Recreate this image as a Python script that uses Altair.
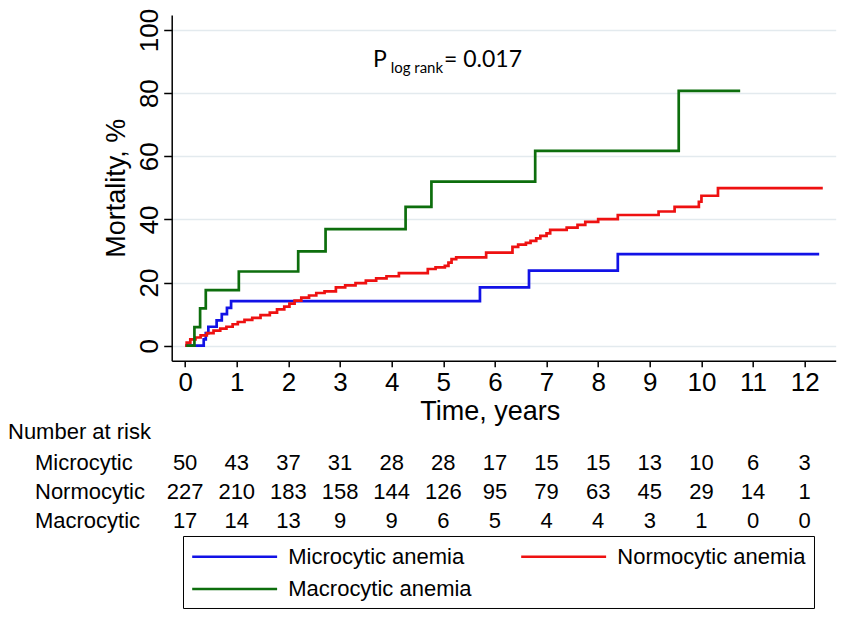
import altair as alt
import pandas as pd

# ---------------- data ----------------
groups = ["Microcytic anemia", "Normocytic anemia", "Macrocytic anemia"]
colors = ["#1212e6", "#ee1111", "#0d6e0d"]

micro_t = [0.0, 0.36, 0.40, 0.45, 0.61, 0.71, 0.81, 0.89, 5.71, 6.66, 8.38, 12.28]
micro_v = [0.0, 2.0, 4.0, 6.0, 8.0, 10.0, 12.0, 14.1, 18.5, 23.8, 29.0, 29.0]

normo_t = [0.0, 0.03, 0.10, 0.20, 0.30, 0.42, 0.55, 0.68, 0.80, 0.92, 1.02, 1.15,
           1.30, 1.46, 1.64, 1.78, 1.92, 2.02, 2.12, 2.25, 2.40, 2.54, 2.70, 2.92,
           3.10, 3.30, 3.50, 3.70, 3.90, 4.14, 4.70, 4.85, 5.03, 5.10, 5.16, 5.25,
           5.83, 6.34, 6.45, 6.60, 6.69, 6.80, 6.88, 7.00, 7.07, 7.39, 7.60, 7.75,
           8.00, 8.38, 9.17, 9.48, 9.95, 10.00, 10.32, 12.35]
normo_v = [0.0, 1.0, 2.0, 2.6, 3.3, 4.0, 4.8, 5.4, 6.0, 6.8, 7.5, 8.2,
           8.8, 9.7, 10.5, 11.5, 12.4, 13.3, 14.3, 15.2, 15.9, 16.7, 17.2, 18.5,
           19.1, 19.8, 20.6, 21.3, 22.0, 23.0, 24.3, 24.8, 25.3, 26.3, 27.4, 28.0,
           29.5, 31.3, 32.0, 32.6, 33.2, 34.0, 34.8, 35.6, 36.7, 37.4, 38.3, 39.2,
           40.1, 41.4, 42.5, 44.0, 45.6, 47.5, 49.9, 49.9]

macro_t = [0.02, 0.18, 0.29, 0.40, 1.04, 2.19, 2.72, 4.27, 4.77, 6.78, 9.56, 10.75]
macro_v = [0.0, 5.9, 11.8, 17.6, 23.5, 29.9, 36.9, 44.0, 52.0, 61.7, 80.7, 80.7]

risk_times = [0, 1, 2, 3, 4, 5, 6, 7, 8, 9, 10, 11, 12]
risk_rows = ["Microcytic", "Normocytic", "Macrocytic"]
risk_micro = [50, 43, 37, 31, 28, 28, 17, 15, 15, 13, 10, 6, 3]
risk_normo = [227, 210, 183, 158, 144, 126, 95, 79, 63, 45, 29, 14, 1]
risk_macro = [17, 14, 13, 9, 9, 6, 5, 4, 4, 3, 1, 0, 0]

x_ticks = [0, 1, 2, 3, 4, 5, 6, 7, 8, 9, 10, 11, 12]
y_ticks = [0, 20, 40, 60, 80, 100]

# ---------------- tables ----------------
curves = pd.concat([
    pd.DataFrame({"group": groups[0], "t": micro_t, "v": micro_v}),
    pd.DataFrame({"group": groups[1], "t": normo_t, "v": normo_v}),
    pd.DataFrame({"group": groups[2], "t": macro_t, "v": macro_v}),
], ignore_index=True)

FONT = "Liberation Sans"
W, H = 664, 345.7

xscale = alt.Scale(domain=[-0.26, 12.6], nice=False, zero=False)
yscale = alt.Scale(domain=[-4.75, 104.75], nice=False, zero=False)

lines = alt.Chart(curves).mark_line(interpolate="step-after", strokeWidth=2.7).encode(
    x=alt.X("t:Q", scale=xscale,
            axis=alt.Axis(values=x_ticks, title="Time, years", grid=False,
                          tickSize=6, labelPadding=3, titlePadding=3, titleX=318,
                          labelFontSize=26, titleFontSize=27)),
    y=alt.Y("v:Q", scale=yscale,
            axis=alt.Axis(values=y_ticks, title="Mortality, %", grid=True,
                          tickSize=8, labelAngle=270, labelAlign="center",
                          labelBaseline="alphabetic", labelPadding=6, titlePadding=6,
                          labelFontSize=26, titleFontSize=27)),
    color=alt.Color("group:N", scale=alt.Scale(domain=groups, range=colors),
                    legend=alt.Legend(title=None, orient="none", legendX=11.3, legendY=521,
                                      columns=2, direction="horizontal",
                                      symbolType="M-3.86,0H3.86", symbolSize=484,
                                      symbolStrokeWidth=2.7, symbolOffset=31.15,
                                      labelOffset=41.15, labelFont=FONT, labelFontSize=22,
                                      labelColor="black", strokeColor="black",
                                      padding=8, columnPadding=43, rowPadding=8.5,
                                      labelLimit=400)),
)

layers = [lines]

risk_counts = [risk_micro, risk_normo, risk_macro]
row_y = [448, 477, 506]
for name, counts, ypx in zip(risk_rows, risk_counts, row_y):
    df = pd.DataFrame({"t": risk_times, "n": counts})
    layers.append(
        alt.Chart(df).mark_text(font=FONT, fontSize=22, baseline="middle", align="center",
                                color="black").encode(
            x=alt.X("t:Q", scale=xscale), y=alt.value(ypx), text="n:Q")
    )
    layers.append(
        alt.Chart(pd.DataFrame({"label": [name]})).mark_text(
            font=FONT, fontSize=22, baseline="middle", align="left", color="black").encode(
            x=alt.value(-136.7), y=alt.value(ypx), text="label:N")
    )

layers.append(
    alt.Chart(pd.DataFrame({"label": ["Number at risk"]})).mark_text(
        font=FONT, fontSize=22, baseline="middle", align="left", color="black").encode(
        x=alt.value(-163.7), y=alt.value(417), text="label:N")
)

# p-value annotation
ANN = "Lato"
layers.append(
    alt.Chart(pd.DataFrame({"s": ["P"]})).mark_text(
        font=ANN, fontSize=23, baseline="alphabetic", align="left", color="black").encode(
        x=alt.value(201.3), y=alt.value(51.7), text="s:N"))
layers.append(
    alt.Chart(pd.DataFrame({"s": ["log rank"]})).mark_text(
        font=ANN, fontSize=15, baseline="alphabetic", align="left", color="black").encode(
        x=alt.value(219), y=alt.value(58.3), text="s:N"))
layers.append(
    alt.Chart(pd.DataFrame({"s": ["= 0.017"]})).mark_text(
        font=ANN, fontSize=23, baseline="alphabetic", align="left", color="black").encode(
        x=alt.value(272.3), y=alt.value(51.7), text="s:N"))

chart = alt.layer(*layers).properties(
    width=W, height=H,
    autosize=alt.AutoSizeParams(type="none"),
    padding={"left": 163.7, "top": 7, "right": 6.3, "bottom": 255},
    background="white",
).configure_view(strokeWidth=0).configure_axis(
    labelFont=FONT, titleFont=FONT, labelFontSize=22, titleFontSize=22,
    titleFontWeight="normal", labelColor="black", titleColor="black",
    domainColor="black", tickColor="black", domainWidth=1.5, tickWidth=1.5,
    gridColor="#e3eaee", gridWidth=1.5,
)

chart.save("out.html", embed_options={"renderer": "svg", "actions": False})
